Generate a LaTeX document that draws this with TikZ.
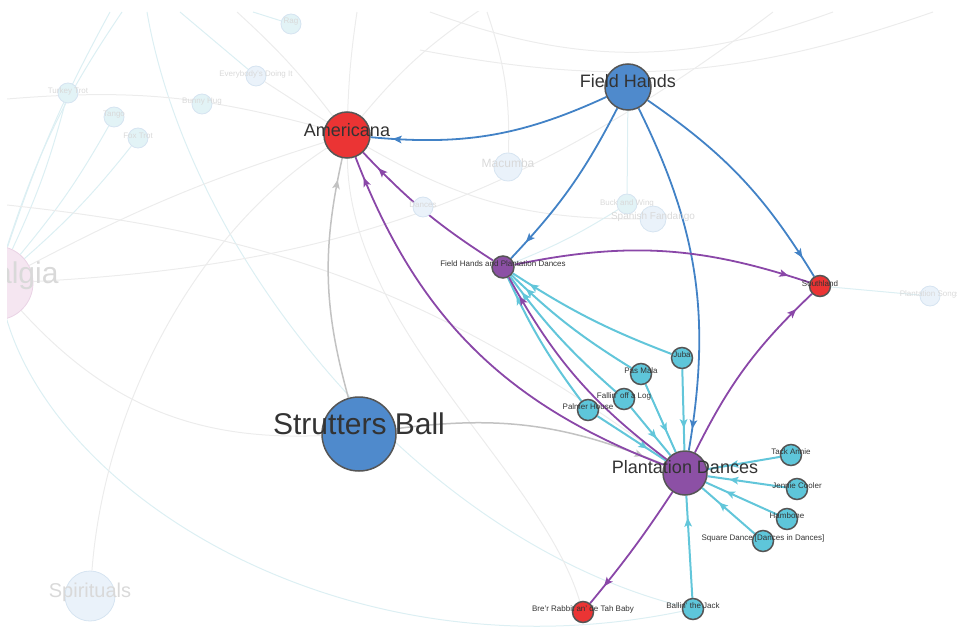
\documentclass[tikz,border=0pt]{standalone}
\usepackage{fontspec}
\setmainfont{Liberation Sans}
\usetikzlibrary{arrows.meta,decorations.markings,backgrounds}
\definecolor{netred}{HTML}{EB3434}
\definecolor{netblue}{HTML}{4F8ACC}
\definecolor{netpurple}{HTML}{8C50A5}
\definecolor{netcyan}{HTML}{5EC6DA}
\definecolor{netink}{HTML}{333333}
\definecolor{netrim}{HTML}{555555}
\definecolor{edgeblue}{HTML}{4282C6}
\definecolor{edgepurple}{HTML}{8A47A8}
\definecolor{edgecyan}{HTML}{62C6DA}
\definecolor{edgegray}{HTML}{C2C2C2}
\definecolor{ghostfill}{HTML}{EAF2FA}
\definecolor{ghostline}{HTML}{D6E4F1}
\definecolor{ghostcyan}{HTML}{E2F3F6}
\definecolor{ghostpink}{HTML}{F5E6F1}
\definecolor{ghostpinkline}{HTML}{EAD3E5}
\definecolor{ghosttext}{HTML}{D9D9D9}
\definecolor{fadecyan}{HTML}{DCEFF3}
\definecolor{fadegray}{HTML}{ECECEC}
\tikzset{
  hub/.style={circle, draw=netrim, line width=1.5pt, inner sep=0pt},
  big/.style={hub, minimum size=46pt},
  dot/.style={hub, minimum size=21pt},
  ghost/.style={circle, draw=ghostline, fill=ghostfill, line width=0.8pt, inner sep=0pt, minimum size=20pt},
  lbl/.style={text=netink, font=\fontsize{8}{9}\selectfont, inner sep=0pt},
  biglbl/.style={text=netink, font=\fontsize{18}{20}\selectfont, inner sep=0pt},
  glbl/.style={text=ghosttext, font=\fontsize{8}{9}\selectfont, inner sep=0pt},
  tip/.style={postaction={decorate}, decoration={markings, mark=at position -#1 with {\arrow{Stealth[length=9pt,width=7.5pt,inset=2pt]}}}},
  tip/.default=22pt,
  eblue/.style={draw=edgeblue, line width=1.8pt, tip},
  epurple/.style={draw=edgepurple, line width=1.8pt, tip},
  ecyan/.style={draw=edgecyan, line width=2pt, tip=#1},
  ecyan/.default=22pt,
  egray/.style={draw=edgegray, line width=1.5pt, tip},
  fcyan/.style={draw=fadecyan, line width=1pt},
  fgray/.style={draw=fadegray, line width=1pt},
}

\begin{document}
\begin{tikzpicture}[x=1pt, y=1pt]
  \useasboundingbox (0,0) rectangle (957,-628);
  % faded part of the network
  \begin{scope}
    \clip (7,-12) rectangle (957,-628);
    \node[ghost, draw=ghostpinkline, fill=ghostpink, minimum size=74pt,
      label={[glbl, font=\fontsize{30}{32}\selectfont, yshift=7pt]center:Nostalgia}] (nostalgia) at (-4,-283) {};
    \node[ghost, minimum size=50pt,
      label={[glbl, font=\fontsize{20}{22}\selectfont, yshift=4pt]center:Spirituals}] (spirituals) at (90,-596) {};
    \node[ghost, minimum size=28pt,
      label={[glbl, font=\fontsize{12}{14}\selectfont, yshift=4pt]center:Macumba}] (macumba) at (508,-167) {};
    \node[ghost, fill=ghostcyan, label={[glbl, yshift=1pt]center:Buck and Wing}] (buckwing) at (627,-204) {};
    \node[ghost, minimum size=26pt,
      label={[glbl, font=\fontsize{10}{12}\selectfont, yshift=2pt]center:Spanish Fandango}] (spanish) at (653,-219) {};
    \node[ghost, label={[glbl, yshift=2pt]center:Plantation Songs}] (plsongs) at (930,-296) {};
    \node[ghost, fill=ghostcyan, label={[glbl, yshift=2pt]center:Turkey Trot}] (turkey) at (68,-93) {};
    \node[ghost, fill=ghostcyan, label={[glbl, yshift=2pt]center:Tango}] (tango) at (114,-117) {};
    \node[ghost, fill=ghostcyan, label={[glbl, yshift=2pt]center:Fox Trot}] (foxtrot) at (138,-138) {};
    \node[ghost, fill=ghostcyan, label={[glbl, yshift=2pt]center:Bunny Hug}] (bunnyhug) at (202,-104) {};
    \node[ghost, label={[glbl, yshift=2pt]center:Everybody's Doing It}] (everybody) at (256,-76) {};
    \node[ghost, fill=ghostcyan, label={[glbl, yshift=2pt]center:Rag}] (rag) at (291,-24) {};
    \node[ghost, label={[glbl, yshift=2pt]center:Dances}] (dances) at (423,-207) {};
  \end{scope}

  \coordinate (c1) at (110,-12);  \coordinate (c2) at (122,-12);
  \coordinate (c3) at (147,-12);  \coordinate (c4) at (180,-12);
  \coordinate (c5) at (253,-12);  \coordinate (c6) at (237,-12);
  \coordinate (c7) at (357,-12);  \coordinate (c8) at (480,-10);
  \coordinate (c9) at (7,-99);    \coordinate (c10) at (773,-12);
  \coordinate (c11) at (487,-12); \coordinate (c12) at (430,-12);
  \coordinate (c13) at (833,-12); \coordinate (c14) at (420,-50);
  \coordinate (c15) at (933,-12); \coordinate (c16) at (7,-205);
  \coordinate (k1) at (190,-260); \coordinate (k2) at (420,-540);
  \coordinate (k3) at (350,-680); \coordinate (k4) at (60,-500);
  \coordinate (k5) at (105,-400); \coordinate (k6) at (200,-230);
  \coordinate (k7) at (350,-330); \coordinate (k8) at (540,-470);

  \node[big, fill=netred, label={[biglbl, yshift=5pt]center:Americana}] (americana) at (347,-135) {};
  \node[big, fill=netblue, label={[biglbl, yshift=6pt]center:Field Hands}] (fieldhands) at (628,-87) {};
  \node[hub, fill=netblue, minimum size=74pt,
    label={[biglbl, font=\fontsize{30}{32}\selectfont, yshift=10pt]center:Strutters Ball}] (strutters) at (359,-434) {};
  \node[big, minimum size=44pt, fill=netpurple, label={[biglbl, yshift=6pt]center:Plantation Dances}] (plantation) at (685,-473) {};
  \node[dot, minimum size=22pt, fill=netpurple, label={[lbl, yshift=3pt]center:Field Hands and Plantation Dances}] (fhpd) at (503,-267) {};
  \node[dot, fill=netred, label={[lbl, yshift=2pt]center:Southland}] (southland) at (820,-286) {};
  \node[dot, fill=netcyan, label={[lbl, yshift=3pt]center:Juba}] (juba) at (682,-358) {};
  \node[dot, fill=netcyan, label={[lbl, yshift=3pt]center:Pas Mala}] (pasmala) at (641,-374) {};
  \node[dot, fill=netcyan, label={[lbl, yshift=3pt]center:Fallin' off a Log}] (fallin) at (624,-399) {};
  \node[dot, fill=netcyan, label={[lbl, yshift=3pt]center:Palmer House}] (palmer) at (588,-410) {};
  \node[dot, fill=netcyan, label={[lbl, yshift=3pt]center:Tack Annie}] (tackannie) at (791,-455) {};
  \node[dot, fill=netcyan, label={[lbl, yshift=3pt]center:Jennie Cooler}] (jennie) at (797,-489) {};
  \node[dot, fill=netcyan, label={[lbl, yshift=3pt]center:Hambone}] (hambone) at (787,-519) {};
  \node[dot, fill=netcyan, label={[lbl, yshift=3pt]center:{Square Dance [Dances in Dances]}}] (square) at (763,-541) {};
  \node[dot, fill=netred, label={[lbl, yshift=3pt]center:Bre'r Rabbit an' de Tah Baby}] (brer) at (583,-612) {};
  \node[dot, fill=netcyan, label={[lbl, yshift=3pt]center:Ballin' the Jack}] (ballin) at (693,-609) {};

  \begin{scope}[on background layer]
    \clip (7,-12) rectangle (957,-628);
    \draw[fcyan] (turkey) to[bend left=5] (nostalgia);
    \draw[fcyan] (tango) to[bend left=5] (nostalgia);
    \draw[fcyan] (foxtrot) to[bend left=5] (nostalgia);
    \draw[fcyan] (c1) to[bend right=5] (nostalgia);
    \draw[fcyan] (c2) to[bend right=8] (nostalgia);
    \draw[fcyan] (c3) .. controls (k1) and (k2) .. (ballin);
    \draw[fcyan] (ballin) .. controls (k3) and (k4) .. (nostalgia);
    \draw[fcyan] (c4) -- (everybody);
    \draw[fgray] (everybody) -- (americana);
    \draw[fcyan] (c5) -- (rag);
    \draw[fgray] (c6) to[bend left=5] (americana);
    \draw[fgray] (c7) to[bend right=3] (americana);
    \draw[fgray] (c8) to[bend right=8] (americana);
    \draw[fgray] (c9) to[bend left=10] (americana);
    \draw[fgray] (strutters) to[bend left=25] (nostalgia);
    \draw[fgray] (spirituals) .. controls (k5) and (k6) .. (americana);
    \draw[fgray] (nostalgia) to[bend left=5] (americana);
    \draw[fgray] (nostalgia) to[bend right=17] (c10);
    \draw[fgray] (c16) to[bend left=15] (plantation);
    \draw[fgray] (americana) to[bend right=15] (spanish);
    \draw[fgray] (americana) .. controls (k7) and (k8) .. (brer);
    \draw[fgray] (c11) to[bend left=10] (macumba);
    \draw[fgray] (c12) to[bend right=20] (c13);
    \draw[fgray] (c14) to[bend right=15] (c15);
    \draw[fcyan] (buckwing) -- (fieldhands);
    \draw[fcyan] (buckwing) to[bend left=5] (fhpd);
    \draw[fcyan] (plsongs) -- (southland);

    \draw[egray] (strutters) to[bend left=14] (americana);
    \draw[egray] (strutters) to[bend left=15] (plantation);
    \foreach \src in {juba,pasmala,fallin,palmer} {
      \draw[ecyan=20pt] (\src) to[bend left=6] (fhpd);
      \draw[ecyan] (\src) -- (plantation);
    }
    \foreach \src in {tackannie,jennie,hambone,square,ballin}
      \draw[ecyan] (\src) -- (plantation);
    \draw[eblue] (fieldhands) to[bend left=15] (americana);
    \draw[eblue] (fieldhands) to[bend left=8] (fhpd);
    \draw[eblue] (fieldhands) to[bend left=18] (plantation);
    \draw[eblue] (fieldhands) to[bend left=12] (southland);
    \draw[epurple] (fhpd) to[bend left=7] (americana);
    \draw[epurple] (fhpd) to[bend left=15] (southland);
    \draw[epurple] (plantation) to[bend left=24] (americana);
    \draw[epurple] (plantation) to[bend left=12] (fhpd);
    \draw[epurple] (plantation) to[bend left=10] (southland);
    \draw[epurple] (plantation) to[bend left=3] (brer);
  \end{scope}
\end{tikzpicture}
\end{document}
